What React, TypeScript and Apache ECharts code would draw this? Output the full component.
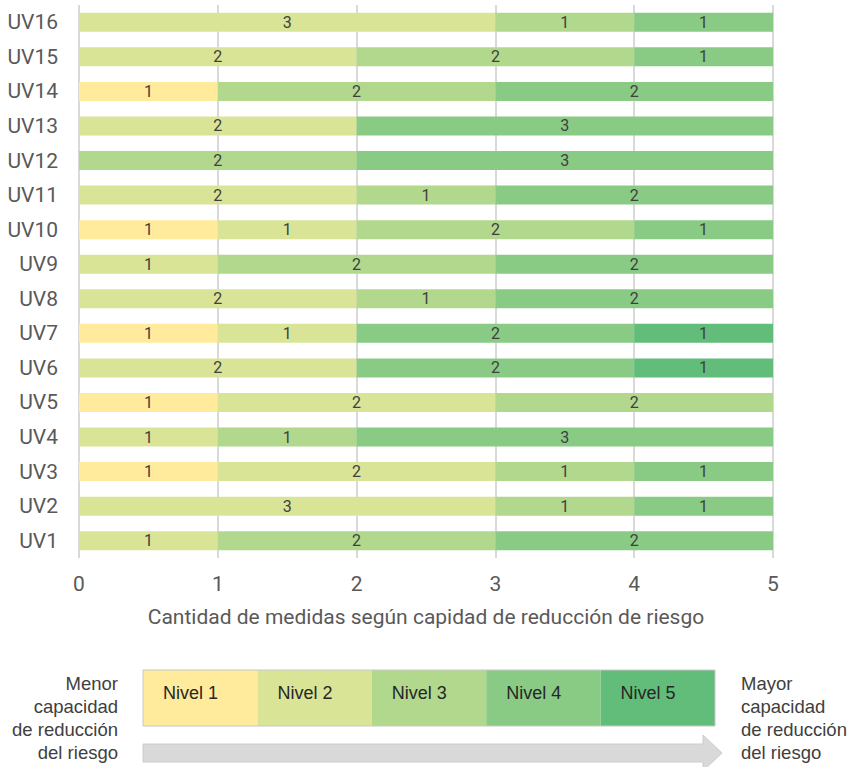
import React, { useEffect, useRef } from "react";
import * as echarts from "echarts";

const categories = ["UV1","UV2","UV3","UV4","UV5","UV6","UV7","UV8","UV9","UV10","UV11","UV12","UV13","UV14","UV15","UV16"];
const nivel1 = [0,0,1,0,1,0,1,0,0,1,0,0,0,1,0,0];
const nivel2 = [1,3,2,1,2,2,1,2,1,1,2,0,2,0,2,3];
const nivel3 = [2,1,1,1,2,0,0,1,2,2,1,2,0,2,2,1];
const nivel4 = [2,1,1,3,0,2,2,2,2,1,2,3,3,2,1,1];
const nivel5 = [0,0,0,0,0,1,1,0,0,0,0,0,0,0,0,0];
const levelNames = ["Nivel 1","Nivel 2","Nivel 3","Nivel 4","Nivel 5"];
const levelColors = ["#ffeb9b","#d9e497","#b1d88d","#89cb84","#63bd7a"];
const xTicks = [0,1,2,3,4,5];
const axisTitle = "Cantidad de medidas según capidad de reducción de riesgo";
const leftNote = ["Menor","capacidad","de reducción","del riesgo"];
const rightNote = ["Mayor","capacidad","de reducción","del riesgo"];

export default function App() {
  const ref = useRef<HTMLDivElement>(null);
  useEffect(() => {
    if (!ref.current) return;
    const chart = echarts.init(ref.current, undefined, { renderer: "svg" });
    const levels = [nivel1, nivel2, nivel3, nivel4, nivel5];
    const series = levels.map((arr, i) => ({
      name: levelNames[i],
      type: "bar",
      stack: "total",
      barWidth: "55%",
      itemStyle: { color: levelColors[i] },
      label: {
        show: true,
        position: "inside",
        color: "#404040",
        fontSize: 16,
        fontFamily: "Roboto",
        formatter: (p: any) => (p.value ? String(p.value) : ""),
      },
      data: arr.map((v) => (v ? v : "-")),
    }));

    const cellX0 = 143, cellW = 114.4, cellY = 670, cellH = 56;
    const graphics: any[] = [];
    levelNames.forEach((n, i) => {
      graphics.push({
        type: "rect",
        shape: { x: cellX0 + i * cellW, y: cellY, width: cellW, height: cellH },
        style: { fill: levelColors[i] },
        silent: true,
      });
      graphics.push({
        type: "text",
        x: cellX0 + i * cellW + 20,
        y: cellY + 23,
        style: { text: n, fill: "#262626", fontSize: 18, fontFamily: "Liberation Sans", verticalAlign: "middle" },
        silent: true,
      });
    });
    graphics.push({
      type: "rect",
      shape: { x: cellX0, y: cellY, width: cellW * 5, height: cellH },
      style: { fill: "none", stroke: "#c8c8c8", lineWidth: 1 },
      silent: true,
    });
    graphics.push({
      type: "polygon",
      shape: { points: [[143, 744], [703, 744], [703, 735], [722, 753], [703, 771], [703, 762], [143, 762]] },
      style: { fill: "#d9d9d9", stroke: "#cccccc", lineWidth: 1 },
      silent: true,
    });
    const lineYs = [683, 706, 729, 752];
    leftNote.forEach((t, i) => {
      graphics.push({
        type: "text",
        x: 118,
        y: lineYs[i],
        style: { text: t, fill: "#404040", fontSize: 18.5, fontFamily: "Liberation Sans", align: "right", verticalAlign: "middle" },
        silent: true,
      });
    });
    rightNote.forEach((t, i) => {
      graphics.push({
        type: "text",
        x: 741,
        y: lineYs[i],
        style: { text: t, fill: "#404040", fontSize: 18.5, fontFamily: "Liberation Sans", align: "left", verticalAlign: "middle" },
        silent: true,
      });
    });

    chart.setOption({
      animation: false,
      backgroundColor: "#ffffff",
      textStyle: { fontFamily: "Roboto" },
      grid: { left: 79, right: 78, top: 5, bottom: 209, containLabel: false },
      xAxis: {
        type: "value",
        min: xTicks[0],
        max: xTicks[xTicks.length - 1],
        interval: 1,
        name: axisTitle,
        nameLocation: "middle",
        nameGap: 48,
        nameTextStyle: { color: "#595959", fontSize: 21, fontFamily: "Roboto" },
        axisLine: { show: false },
        axisTick: { show: false },
        axisLabel: { color: "#595959", fontSize: 21, margin: 15, fontFamily: "Roboto" },
        splitLine: { show: true, lineStyle: { color: "#d9d9d9", width: 2 } },
      },
      yAxis: {
        type: "category",
        data: categories,
        axisLine: { show: false },
        axisTick: { show: false },
        axisLabel: { color: "#595959", fontSize: 21, margin: 21, fontFamily: "Roboto" },
        splitLine: { show: false },
      },
      series,
      graphic: graphics,
    });
    return () => chart.dispose();
  }, []);
  return <div ref={ref} style={{ position: "fixed", left: 0, top: 0, width: 851, height: 767 }} />;
}
